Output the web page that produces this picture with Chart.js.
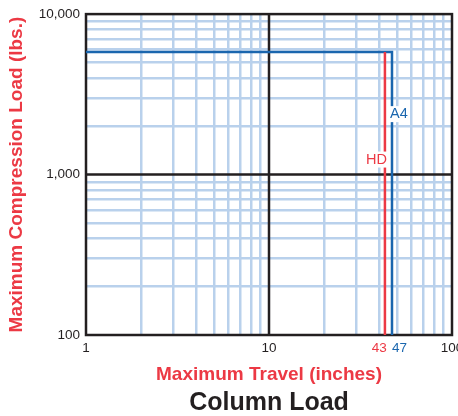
<!DOCTYPE html>
<html>
<head>
<meta charset="utf-8">
<script src="https://cdn.jsdelivr.net/npm/chart.js@4"></script>
<style>
  body { margin: 0; background: #fff; }
  canvas { display: block; }
</style>
</head>
<body>
<canvas id="colLoad" width="458" height="416"></canvas>
<script>
// values
let xTicks = [1, 2, 3, 4, 5, 6, 7, 8, 9, 10, 20, 30, 40, 43, 47, 50, 60, 70, 80, 90, 100];
let yTicks = [100, 200, 300, 400, 500, 600, 700, 800, 900, 1000, 2000, 3000, 4000, 5000, 6000, 7000, 8000, 9000, 10000];
let xLabeled = [1, 10, 43, 47, 100];
let yLabeled = [100, 1000, 10000];

let a4Travel = [1, 47, 47];
let a4Load = [5800, 5800, 100];
let hdTravel = [43, 43];
let hdLoad = [5800, 100];

// where the series names sit along their line (load value)
let a4TagLoad = 2380;
let hdTagLoad = 1240;

let blue = "#1a66ae";
let red = "#ec3944";
let ink = "#231f20";
let gridBlue = "#b9d1ec";
let font = "'Liberation Sans', Arial, Helvetica, sans-serif";

let toPoints = (xs, ys) => xs.map((x, i) => ({ x: x, y: ys[i] }));

// 43 and 47 sit close together: nudge them apart with padding spaces
let xTickText = (v) => {
  if (v === 43) return "43   ";
  if (v === 47) return "    47";
  return xLabeled.includes(v) ? String(v) : "";
};

// black decade lines + frame, drawn over the light grid
let frame = {
  id: "frame",
  beforeDatasetsDraw(chart) {
    let { ctx, chartArea: a, scales } = chart;
    ctx.save();
    ctx.strokeStyle = ink;
    ctx.lineWidth = 2.5;
    let x10 = scales.x.getPixelForValue(10);
    let y1k = scales.y.getPixelForValue(1000);
    ctx.beginPath();
    ctx.moveTo(x10, a.top);
    ctx.lineTo(x10, a.bottom);
    ctx.moveTo(a.left, y1k);
    ctx.lineTo(a.right, y1k);
    ctx.stroke();
    ctx.strokeRect(a.left, a.top, a.right - a.left, a.bottom - a.top);
    ctx.restore();
  },
};

// "A4" / "HD" tags on the lines
let tags = {
  id: "tags",
  afterDatasetsDraw(chart) {
    let { ctx, scales } = chart;
    ctx.save();
    ctx.font = "14.5px " + font;
    ctx.textBaseline = "middle";
    let put = (txt, x, y, color, alignRight) => {
      let w = ctx.measureText(txt).width;
      let left = alignRight ? x - w : x;
      ctx.fillStyle = "#fff";
      ctx.fillRect(left - 1, y - 8, w + 2, 16);
      ctx.fillStyle = color;
      ctx.fillText(txt, left, y);
    };
    put("A4", scales.x.getPixelForValue(a4Travel[1]) - 2, scales.y.getPixelForValue(a4TagLoad), blue, false);
    put("HD", scales.x.getPixelForValue(hdTravel[0]) + 2, scales.y.getPixelForValue(hdTagLoad), red, true);
    ctx.restore();
  },
};

let ctxEl = document.querySelector("#colLoad");
let columnChart = new Chart(ctxEl, {
  type: "scatter",
  data: {
    datasets: [
      {
        label: "HD",
        data: toPoints(hdTravel, hdLoad),
        showLine: true,
        borderColor: red,
        borderWidth: 2.5,
        pointRadius: 0,
      },
      {
        label: "A4",
        data: toPoints(a4Travel, a4Load),
        showLine: true,
        borderColor: blue,
        borderWidth: 2.5,
        pointRadius: 0,
      },
    ],
  },
  options: {
    responsive: false,
    animation: false,
    layout: { padding: { top: 11, right: 6, left: 0, bottom: 0 } },
    plugins: {
      legend: { display: false },
      tooltip: { enabled: false },
      title: {
        display: true,
        position: "bottom",
        fullSize: false,
        text: "Column Load",
        color: ink,
        font: { family: font, size: 25, weight: "bold", lineHeight: 1 },
        padding: { top: 0, bottom: 0 },
      },
    },
    scales: {
      x: {
        type: "logarithmic",
        min: 1,
        max: 100,
        afterBuildTicks: (s) => {
          s.ticks = xTicks.map((v) => ({ value: v }));
        },
        afterFit: (s) => {
          s.height = 56;
          s.paddingRight = 0;
          s.paddingLeft = 0;
        },
        grid: {
          drawTicks: false,
          lineWidth: 2.5,
          color: (c) => (xLabeled.includes(c.tick.value) ? "rgba(0,0,0,0)" : gridBlue),
        },
        border: { display: false },
        ticks: {
          autoSkip: false,
          maxRotation: 0,
          padding: 5,
          font: { family: font, size: 13.5 },
          color: (c) => (c.tick.value === 43 ? red : c.tick.value === 47 ? blue : ink),
          callback: (v) => xTickText(v),
        },
        title: {
          display: true,
          text: "Maximum Travel (inches)",
          color: red,
          font: { family: font, size: 19, weight: "bold" },
          padding: { top: 0, bottom: 5 },
        },
      },
      y: {
        type: "logarithmic",
        min: 100,
        max: 10000,
        afterBuildTicks: (s) => {
          s.ticks = yTicks.map((v) => ({ value: v }));
        },
        afterFit: (s) => {
          s.width = 86;
        },
        grid: {
          drawTicks: false,
          lineWidth: 2.5,
          color: (c) => (yLabeled.includes(c.tick.value) ? "rgba(0,0,0,0)" : gridBlue),
        },
        border: { display: false },
        ticks: {
          autoSkip: false,
          padding: 6,
          font: { family: font, size: 13.5 },
          color: ink,
          callback: (v) => (yLabeled.includes(v) ? v.toLocaleString("en-US") : ""),
        },
        title: {
          display: true,
          text: "Maximum Compression Load (lbs.)",
          color: red,
          font: { family: font, size: 19, weight: "bold" },
          padding: { top: 5, bottom: 0 },
        },
      },
    },
  },
  plugins: [frame, tags],
});
</script>
</body>
</html>
